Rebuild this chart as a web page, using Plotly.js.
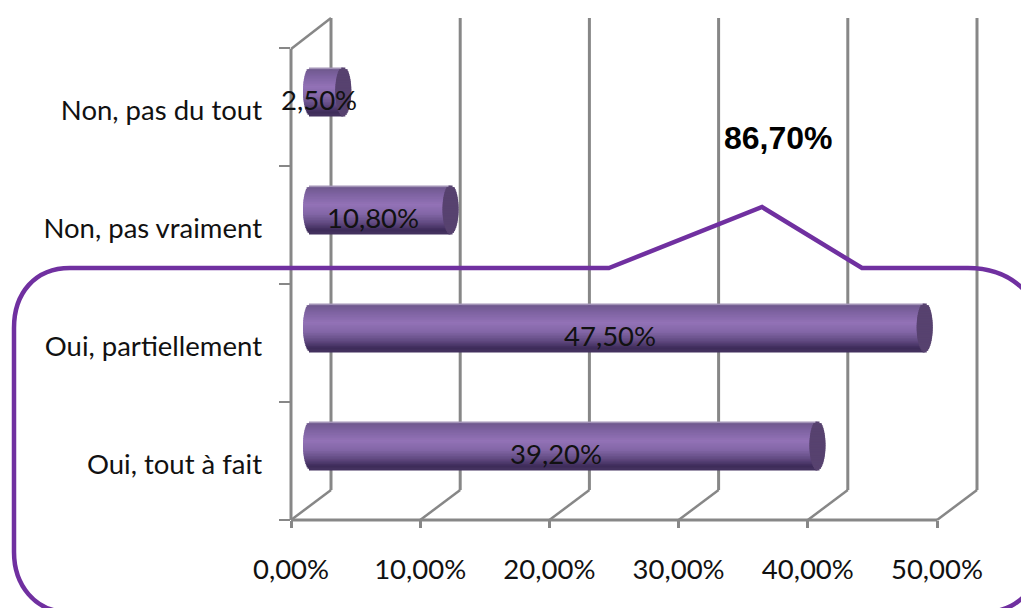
<!DOCTYPE html>
<html><head><meta charset="utf-8">
<script src="https://cdn.plot.ly/plotly-3.0.1.min.js"></script>
<style>html,body{margin:0;padding:0;background:#fff}#c{width:1021px;height:608px}</style>
</head><body><div id="c"></div>
<script>
const categories = ["Oui, tout à fait", "Oui, partiellement", "Non, pas vraiment", "Non, pas du tout"];
const values = [39.2, 47.5, 10.8, 2.5];
const valueLabels = ["39,20%", "47,50%", "10,80%", "2,50%"];
const xTicks = [0, 10, 20, 30, 40, 50];
const xTickLabels = ["0,00%", "10,00%", "20,00%", "30,00%", "40,00%", "50,00%"];
const calloutLabel = "86,70%";

const W = 1021, H = 608, L = 291, R = 978, T = 18, B = 520;
const pxPerUnit = (937 - 291) / 50;
const xMax = (R - L) / pxPerUnit;
const catPx = 118;
const yTop = (461 - T) / catPx;
const depthX = 40, depthY = 30;
const shift = 20 / pxPerUnit, capA = 8 / pxPerUnit;
const barH = 49 / catPx, barMid = 15 / catPx;
const xp = p => (p - L) / (R - L);
const yp = p => (B - p) / (B - T);
const GREY = "#878787", PURPLE = "#7030a0", FONT = "Lato, 'Open Sans', sans-serif", FS = 27.5;

const stops = [[0,[190,178,205]],[0.05,[110,88,140]],[0.2,[125,98,160]],[0.42,[146,114,182]],[0.6,[132,103,168]],[0.8,[96,73,128]],[0.94,[60,42,88]],[1,[70,52,96]]];
function grad(t){
  for(let i=1;i<stops.length;i++){ if(t<=stops[i][0]){
    const a=stops[i-1],b=stops[i],f=(t-a[0])/(b[0]-a[0]);
    return "rgb("+a[1].map((c,k)=>Math.round(c+(b[1][k]-c)*f)).join(",")+")"; } }
  return "rgb(70,52,96)";
}
const traces = [];
const n = 30;
function strip(i, baseFn, lenFn, color){
  const h = barH/n;
  const bottom = barMid - barH/2 + (n-1-i)*h;
  traces.push({type:"bar",orientation:"h",y:categories,base:values.map(baseFn),x:values.map(lenFn),
    offset:bottom,width:i<=1?h:h*1.9,marker:{color:color,line:{width:0}},hoverinfo:"skip",showlegend:false});
}
const sOf=i=>{const u=2*(i+.5)/n-1;return Math.sqrt(1-u*u);};
for(let i=0;i<n;i++){ const s=sOf(i);
  strip(i,()=>shift-capA*s,v=>v+capA*s,grad((i+.5)/n));
}
for(let i=0;i<n;i++){ const s=sOf(i);
  strip(i,v=>v+shift-capA*s,()=>2*capA*s,"#57426f");
}

const shapes = [];
const ln=(x0,y0,x1,y1,w)=>shapes.push({type:"line",xref:"paper",yref:"paper",layer:"below",
  x0:xp(x0),y0:yp(y0),x1:xp(x1),y1:yp(y1),line:{color:GREY,width:w}});
xTicks.forEach(t=>{
  const fx=L+t*pxPerUnit;
  ln(fx+depthX,B-depthY,fx+depthX,T,3);
  ln(fx,B,fx+depthX,B-depthY,2.5);
});
ln(L,49,L,B,3);
ln(L,B,937,B,3);
ln(L,49,L+depthX,T,2.5);

const P=(x,y)=>xp(x).toFixed(5)+","+yp(y).toFixed(5);
const callout="M"+P(609,268)+" L"+P(762,207)+" L"+P(862,268)+" L"+P(968,268)
 +" C"+P(1010,268)+" "+P(1040,295)+" "+P(1040,330)
 +" L"+P(1040,555)+" C"+P(1040,590)+" "+P(1015,612)+" "+P(985,612)
 +" L"+P(68,612)+" C"+P(35,612)+" "+P(14,585)+" "+P(14,552)
 +" L"+P(14,328)+" C"+P(14,293)+" "+P(35,268)+" "+P(70,268)+" Z";
shapes.push({type:"path",xref:"paper",yref:"paper",layer:"above",path:callout,line:{color:PURPLE,width:4.5},fillcolor:"rgba(0,0,0,0)"});

const annotations = categories.map((c,i)=>({xref:"x",yref:"y",x:values[i]/2+12/pxPerUnit,y:c,yshift:8,text:valueLabels[i],
  showarrow:false,xanchor:"center",yanchor:"middle",font:{family:FONT,size:FS,color:"#111"}}));
annotations.push({xref:"paper",yref:"paper",x:xp(778),y:yp(138),text:"<b>"+calloutLabel+"</b>",showarrow:false,
    font:{family:"'Liberation Sans', Arial, sans-serif",size:32,color:"#000"},xanchor:"center",yanchor:"middle"});

const layout={width:W,height:H,margin:{l:L,r:W-R,t:T,b:H-B,pad:0},
  paper_bgcolor:"#fff",plot_bgcolor:"rgba(0,0,0,0)",barmode:"overlay",showlegend:false,
  font:{family:FONT,size:FS,color:"#111"},
  xaxis:{range:[0,xMax],tickmode:"array",tickvals:xTicks,ticktext:xTickLabels,showgrid:false,zeroline:false,showline:false,
    ticks:"outside",ticklen:7,tickwidth:3,tickcolor:GREY,ticklabelstandoff:18,tickfont:{family:FONT,size:FS,color:"#111"}},
  yaxis:{type:"category",categoryorder:"array",categoryarray:categories,range:[-0.5,yTop],tickson:"boundaries",
    showgrid:false,zeroline:false,showline:false,ticks:"outside",ticklen:11,tickwidth:2.5,tickcolor:GREY,ticklabelstandoff:28,ticklabelshift:3,
    tickfont:{family:FONT,size:FS,color:"#111"}},
  shapes:shapes,annotations:annotations
};
Plotly.newPlot("c",traces,layout,{displayModeBar:false,staticPlot:true});
</script></body></html>
